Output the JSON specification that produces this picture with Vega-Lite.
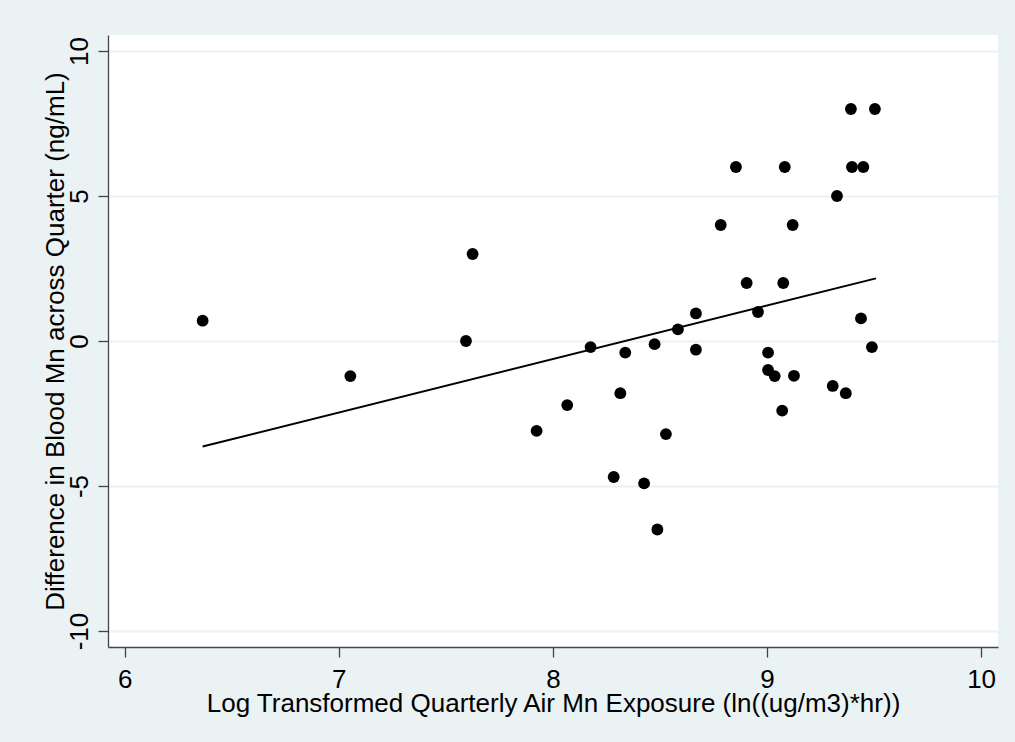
{
  "$schema": "https://vega.github.io/schema/vega-lite/v6.json",
  "width": 890,
  "height": 612,
  "autosize": {"type": "none"},
  "padding": {"left": 108, "top": 35, "right": 17, "bottom": 95},
  "background": "#EAF2F3",
  "view": {"fill": "white", "stroke": null},
  "config": {
    "font": "Liberation Sans",
    "axis": {
      "labelFont": "Liberation Sans",
      "titleFont": "Liberation Sans",
      "labelFontSize": 26,
      "titleFontSize": 26,
      "labelColor": "black",
      "titleColor": "black",
      "titleFontWeight": "normal",
      "domainColor": "#444444",
      "domainWidth": 1.3,
      "tickColor": "#444444",
      "tickWidth": 1.3,
      "tickSize": 10
    }
  },
  "datasets": {
    "points": [
      {"exposure": 9.392, "diff": 8},
      {"exposure": 9.504, "diff": 8},
      {"exposure": 8.855, "diff": 6},
      {"exposure": 9.083, "diff": 6},
      {"exposure": 9.397, "diff": 6},
      {"exposure": 9.450, "diff": 6},
      {"exposure": 9.327, "diff": 5},
      {"exposure": 8.784, "diff": 4},
      {"exposure": 9.120, "diff": 4},
      {"exposure": 8.905, "diff": 2},
      {"exposure": 9.076, "diff": 2},
      {"exposure": 8.668, "diff": 0.95},
      {"exposure": 8.958, "diff": 1.0},
      {"exposure": 9.439, "diff": 0.78},
      {"exposure": 8.584, "diff": 0.4},
      {"exposure": 8.176, "diff": -0.21},
      {"exposure": 8.338, "diff": -0.4},
      {"exposure": 8.475, "diff": -0.11},
      {"exposure": 8.668, "diff": -0.3},
      {"exposure": 9.005, "diff": -0.4},
      {"exposure": 9.490, "diff": -0.21},
      {"exposure": 9.005, "diff": -1.0},
      {"exposure": 9.036, "diff": -1.21},
      {"exposure": 9.126, "diff": -1.2},
      {"exposure": 9.307, "diff": -1.55},
      {"exposure": 9.368, "diff": -1.8},
      {"exposure": 9.071, "diff": -2.4},
      {"exposure": 8.067, "diff": -2.21},
      {"exposure": 8.315, "diff": -1.8},
      {"exposure": 8.528, "diff": -3.21},
      {"exposure": 8.284, "diff": -4.69},
      {"exposure": 8.426, "diff": -4.91},
      {"exposure": 8.488, "diff": -6.5},
      {"exposure": 6.364, "diff": 0.7},
      {"exposure": 7.625, "diff": 3.0},
      {"exposure": 7.594, "diff": 0.0},
      {"exposure": 7.054, "diff": -1.21},
      {"exposure": 7.924, "diff": -3.1}
    ],
    "fit": [
      {"exposure": 6.364, "fitted": -3.64},
      {"exposure": 9.509, "fitted": 2.16}
    ]
  },
  "layer": [
    {
      "data": {"name": "points"},
      "mark": {"type": "point", "shape": "circle", "filled": true, "color": "black", "opacity": 1, "size": 140},
      "encoding": {
        "x": {
          "field": "exposure", "type": "quantitative",
          "scale": {"domain": [5.922, 10.079], "nice": false, "zero": false},
          "axis": {
            "title": "Log Transformed Quarterly Air Mn Exposure (ln((ug/m3)*hr))",
            "values": [6, 7, 8, 9, 10],
            "labelExpr": "toString(datum.value)",
            "grid": false,
            "labelPadding": 9,
            "titlePadding": -2,
            "labelFlush": false
          }
        },
        "y": {
          "field": "diff", "type": "quantitative",
          "scale": {"domain": [-10.55, 10.55], "nice": false, "zero": false},
          "axis": {
            "title": "Difference in Blood Mn across Quarter (ng/mL)",
            "values": [-10, -5, 0, 5, 10],
            "labelExpr": "toString(datum.value)",
            "grid": true,
            "gridColor": "#EAF2F3",
            "gridWidth": 2,
            "labelAngle": 270,
            "labelAlign": "center",
            "labelBaseline": "bottom",
            "labelPadding": 5.5,
            "titlePadding": -1.5,
            "labelFlush": false
          }
        }
      }
    },
    {
      "data": {"name": "fit"},
      "mark": {"type": "line", "color": "black", "strokeWidth": 2},
      "encoding": {
        "x": {"field": "exposure", "type": "quantitative"},
        "y": {"field": "fitted", "type": "quantitative"}
      }
    }
  ]
}
